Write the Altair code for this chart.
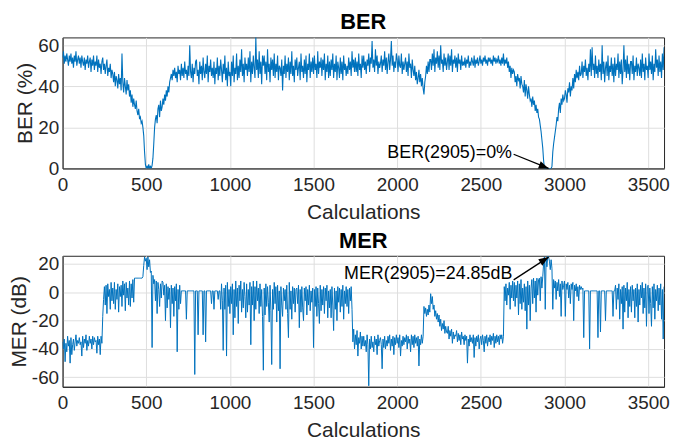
import altair as alt
import pandas as pd

# ---------------- data (every 5 calculations) ----------------
calc_step = 5
ber = [
    54, 57, 51, 55, 52, 56, 53, 50, 55, 52,
    56, 51, 54, 49, 55, 52, 57, 50, 53, 55,
    51, 54, 49, 55, 52, 50, 54, 48, 53, 51,
    55, 49, 52, 54, 47, 53, 50, 55, 48, 52,
    50, 55, 47, 53, 49, 51, 46, 52, 54, 48,
    51, 46, 50, 53, 45, 49, 47, 51, 44, 48,
    46, 42, 47, 40, 45, 43, 39, 46, 41, 44,
    38, 56, 42, 37, 44, 40, 36, 43, 38, 41,
    35, 38, 32, 36, 30, 34, 31, 29, 33, 28,
    26, 29, 24, 25, 22, 23, 20, 16, 8, 2,
    0, 1, 0, 2, 0, 1, 0, 1.5, 5, 12,
    20, 24, 26, 22, 29, 31, 25, 33, 28, 30,
    34, 31, 36, 33, 38, 35, 40, 37, 42, 44,
    46, 43, 48, 45, 49, 44, 47, 42, 50, 46,
    48, 43, 51, 45, 49, 44, 52, 46, 48, 43,
    50, 45, 60, 47, 44, 51, 42, 49, 46, 52,
    53, 45, 48, 41, 52, 46, 50, 43, 54, 47,
    44, 51, 46, 55, 42, 50, 47, 53, 45, 49,
    44, 52, 41, 49, 46, 54, 43, 50, 45, 53,
    48, 42, 51, 46, 55, 43, 49, 40, 52, 45,
    47, 40, 52, 45, 55, 42, 49, 46, 56, 43,
    50, 44, 53, 47, 58, 45, 51, 42, 54, 48,
    51, 45, 54, 47, 57, 42, 52, 46, 55, 49,
    44, 64, 48, 53, 44, 57, 46, 52, 41, 55,
    50, 55, 46, 52, 43, 58, 47, 51, 42, 54,
    48, 53, 45, 56, 44, 51, 47, 55, 43, 50,
    49, 45, 53, 38, 50, 46, 55, 44, 51, 47,
    54, 43, 52, 46, 57, 45, 50, 42, 53, 48,
    54, 45, 49, 52, 43, 56, 47, 50, 44, 53,
    46, 55, 42, 51, 48, 56, 44, 52, 47, 54,
    46, 55, 48, 51, 44, 57, 46, 52, 49, 54,
    45, 53, 48, 56, 43, 51, 47, 55, 44, 52,
    45, 53, 48, 56, 44, 51, 47, 55, 43, 52,
    49, 44, 54, 46, 52, 43, 55, 48, 51, 45,
    50, 46, 54, 48, 52, 45, 57, 49, 53, 47,
    54, 47, 52, 45, 56, 48, 51, 44, 55, 49,
    55, 48, 52, 46, 53, 50, 56, 47, 54, 51,
    62, 49, 53, 47, 58, 50, 55, 46, 52, 49,
    51, 55, 47, 53, 50, 57, 48, 54, 46, 52,
    56, 48, 53, 62, 50, 55, 47, 52, 49, 56,
    53, 47, 55, 50, 49, 56, 46, 52, 48, 51,
    54, 47, 52, 45, 56, 49, 51, 44, 53, 48,
    45, 50, 43, 47, 41, 44, 48, 42, 46, 40,
    44, 39, 36, 42, 45, 50, 46, 52, 47, 53,
    53, 48, 56, 50, 58, 47, 54, 51, 57, 49,
    55, 48, 60, 51, 53, 47, 56, 50, 54, 48,
    52, 56, 48, 55, 50, 58, 47, 53, 51, 55,
    49, 54, 47, 56, 51, 53, 48, 55, 50, 52,
    50, 54, 49, 53, 51, 55, 49, 52, 50, 54,
    52, 50, 55, 49, 53, 51, 54, 50, 52, 55,
    51, 53, 50, 54, 52, 55, 51, 53, 50, 54,
    52, 54, 51, 53, 50, 55, 52, 54, 51, 53,
    52, 55, 51, 53, 50, 54, 51, 56, 50, 53,
    51, 54, 49, 52, 47, 50, 44, 49, 46, 48,
    47, 42, 45, 40, 46, 43, 44, 39, 45, 41,
    40, 37, 43, 35, 41, 38, 34, 40, 36, 33,
    34, 30, 35, 31, 33, 28, 31, 27, 29, 25,
    24, 21, 18, 14, 10, 4, 0, 0, 0, 0,
    0, 0, 0, 0, 0, 1, 8, 12, 15, 18,
    21, 25, 23, 29, 32, 27, 34, 31, 36, 33,
    34, 38, 36, 32, 39, 37, 42, 35, 40, 38,
    44, 39, 46, 42, 48, 44, 47, 43, 50, 45,
    46, 52, 44, 50, 47, 53, 45, 49, 43, 51,
    47, 58, 45, 59, 48, 51, 44, 55, 46, 50,
    44, 53, 47, 51, 43, 60, 46, 52, 42, 49,
    52, 45, 55, 43, 50, 47, 54, 45, 51, 42,
    54, 45, 51, 48, 56, 44, 52, 46, 53, 41,
    48, 60, 47, 53, 44, 55, 46, 51, 43, 52,
    52, 46, 55, 43, 50, 47, 54, 45, 51, 49,
    45, 53, 44, 56, 47, 51, 43, 54, 48, 50,
    44, 56, 48, 52, 46, 55, 43, 51, 47, 58,
    49, 53, 45, 55, 47, 52, 44, 56, 48, 59,
]
mer = [
    -35, -40, -33, -49, -36, -42, -31, -38, -34, -50,
    -32, -44, -37, -33, -41, -35, -30, -38, -34, -36,
    -32, -37, -35, -45, -31, -39, -33, -36, -30, -41,
    -34, -38, -31, -36, -33, -40, -31, -37, -32, -35,
    -34, -43, -31, -37, -33, -44, -31, -36, -17, -5,
    4, -9, 5, -15, 6, -3, 2, -12, 7, -6,
    3, -8, 7, -12, 2, -5, 6, -14, 4, -3,
    5, -10, 8, -2, 6, -13, 7, -4, 3, -9,
    8, -10, 6, -4, 9, -7, 10, 10, 10, 10,
    10, 10, 10, 10, 10, 10, 11, 19, 25, 22,
    24, 16, 25, 18, 23, 14, 15, -39, 12, 6,
    9, -6, 8, -15, 7, 2, -10, 6, -4, 8,
    7, -2, 5, -20, 6, -11, 4, -5, 3, -25,
    5, -8, 3, -17, 4, -6, 6, -42, 2, -12,
    5, -8, 1, 1, 1, 1, 1, 1, -19, 1,
    1, 1, 1, 1, 1, 1, 1, 1, -58, 1,
    1, 1, -30, 1, 1, 1, 1, 1, -30, 1,
    1, -35, 1, 1, 1, 1, 1, 1, -8, 1,
    1, -12, 1, 1, 1, 1, -5, 1, 1, -12,
    6, -6, -41, 3, -12, 5, -45, 7, -10, 2,
    -15, 4, -8, 6, -30, 2, -18, 8, -10, 3,
    -22, 5, -6, 8, -14, 2, -11, 7, -3, -18,
    6, -14, 2, -9, 7, -37, 4, -9, 8, -20,
    4, -12, 8, -6, 3, -15, 6, -10, 2, -17,
    -55, 3, -16, 6, -10, 4, -7, -21, 5, -13,
    -51, 2, -12, 7, -8, 4, -21, 5, -13, 1,
    -54, 4, -9, -17, 3, -6, 2, -12, 5, -15,
    -32, 7, -12, 1, -19, 4, -8, 3, -14, 2,
    3, -8, 5, -25, 2, -14, 4, -11, -20, 3,
    -6, 4, -16, 2, -9, 5, -13, 1, -7, 3,
    -39, 2, -10, 4, -17, 3, -8, -22, 5, -13,
    2, -9, 4, -15, 3, -6, 5, -18, 1, -11,
    2, -18, 4, -9, -27, 3, -12, 1, -20, 4,
    -7, 3, -14, 2, -10, 5, -19, 1, -8, 4,
    -10, 2, -15, 3, -6, 4, -12, -35, -26, -40,
    -30, -37, -27, -45, -32, -36, -28, -40, -31, -38,
    -31, -38, -34, -42, -30, -37, -66, -33, -40, -31,
    -39, -35, -42, -31, -37, -33, -44, -30, -38, -34,
    -32, -37, -54, -33, -39, -31, -40, -34, -38, -31,
    -36, -30, -41, -33, -38, -31, -44, -32, -37, -30,
    -36, -32, -39, -30, -45, -34, -38, -31, -37, -32,
    -35, -30, -40, -31, -36, -33, -42, -30, -37, -31,
    -39, -30, -36, -32, -38, -31, -52, -33, -37, -30,
    -36, -31, -10, -15, -11, -17, -12, -16, -9, -14,
    -1, -8, -3, -12, -9, -17, -13, -19, -15, -21,
    -16, -24, -19, -27, -22, -26, -20, -29, -24, -28,
    -29, -24, -33, -27, -31, -26, -36, -28, -33, -30,
    -31, -27, -35, -29, -34, -30, -37, -28, -33, -31,
    -37, -30, -34, -31, -50, -33, -38, -30, -35, -32,
    -36, -30, -46, -32, -38, -31, -35, -30, -40, -33,
    -31, -37, -30, -34, -42, -31, -36, -30, -38, -32,
    -35, -30, -37, -31, -34, -29, -39, -31, -36, -30,
    -35, -31, -37, -30, -33, -30, -36, -31, 4, -6,
    6, -9, 3, -2, 7, -12, 5, -4, 8, -6,
    7, -10, 5, -4, 8, -16, 6, -8, 9, -12,
    3, -7, 6, -13, 4, -26, 8, -9, 5, -20,
    3, 9, -8, 10, -4, 8, -14, 10, -2, 9,
    10, -6, 11, 3, 11, 20, 25, -12, 24, 18,
    25.5, 24.85, 22, 16, 23, 17, -12, 9, 3, 8,
    -5, 7, 1, 9, -3, 6, -17, 8, 2, 5,
    8, -17, 6, 2, 7, -4, 5, -8, 6, 2,
    7, -20, 5, 1, 6, -3, 4, -6, 5, 2,
    4, 2, 3, -32, 1, 1, 1, 1, 1, 1,
    -40, 1, 1, 1, 1, 1, 1, 1, 1, 1,
    -32, 1, 1, -28, 1, 1, 1, 1, 1, -20,
    1, 1, 1, 1, 1, 1, 1, 1, -17, 1,
    1, 5, -12, 3, -5, 6, -19, 2, -8, 4,
    -26, 5, -14, 3, -6, 7, -18, 2, -10, 4,
    -14, 5, -6, 2, -18, 3, -10, 6, -21, 2,
    -9, 5, -4, 7, -15, 3, -11, 6, -24, 4,
    5, -15, 3, -8, -24, 4, -11, 6, -19, 2,
    -6, 5, -13, 3, -9, 6, -19, 2, -33, 4,
]
x_ticks = [0, 500, 1000, 1500, 2000, 2500, 3000, 3500]
ber_ticks = [0, 20, 40, 60]
mer_ticks = [-60, -40, -20, 0, 20]

# annotations: target point, arrow tail, text anchor (right end)
ber_ann = dict(x=2905, y=0, tx=2696, ty=6.9, lx=2686, ly=7.6, text="BER(2905)=0%", angle=111)
mer_ann = dict(x=2905, y=24.85, tx=2696, ty=8.8, lx=2688, ly=13.0, text="MER(2905)=24.85dB", angle=57)

# ---------------- styling ----------------
BLUE = "#0072BD"
AX = "#262626"
FONT = "Liberation Sans"
W, H = 606, 132
X_DOMAIN = [0, 3595]
ARROW = "M0,0 L-0.38,1 L0.38,1 Z"

df_ber = pd.DataFrame({"x": [i * calc_step for i in range(len(ber))], "y": ber})
df_mer = pd.DataFrame({"x": [i * calc_step for i in range(len(mer))], "y": mer})


def panel(df, title, ytitle, ydom, yticks, ann, lw):
    xs = alt.Scale(domain=X_DOMAIN, nice=False, zero=False)
    ys = alt.Scale(domain=ydom, nice=False, zero=False)
    xax = alt.Axis(values=x_ticks, title="Calculations", labelExpr="datum.value + ''",
                   labelOverlap=False)
    yax = alt.Axis(values=yticks, title=ytitle, labelExpr="datum.value + ''",
                   labelOverlap=False)
    line = alt.Chart(df).mark_line(color=BLUE, strokeWidth=lw, clip=True).encode(
        x=alt.X("x:Q", scale=xs, axis=xax),
        y=alt.Y("y:Q", scale=ys, axis=yax),
    )
    a = pd.DataFrame([ann])
    rule = alt.Chart(a).mark_rule(color="black", strokeWidth=1.3).encode(
        x=alt.X("tx:Q", scale=xs, axis=xax), y=alt.Y("ty:Q", scale=ys, axis=yax),
        x2="x:Q", y2="y:Q"
    )
    head = alt.Chart(a).mark_point(
        shape=ARROW, filled=True, color="black", size=400, opacity=1
    ).encode(x=alt.X("x:Q", scale=xs, axis=xax), y=alt.Y("y:Q", scale=ys, axis=yax),
             angle=alt.value(ann["angle"]))
    txt = alt.Chart(a).mark_text(
        align="right", baseline="middle", font=FONT, fontSize=18, color="black"
    ).encode(x=alt.X("lx:Q", scale=xs, axis=xax), y=alt.Y("ly:Q", scale=ys, axis=yax),
             text="text:N")
    return alt.layer(line, rule, head, txt).properties(
        width=W,
        height=H,
        title=alt.TitleParams(title, fontSize=22, fontWeight="bold", font=FONT,
                              color="black", offset=2),
    )


top = panel(df_ber, "BER", "BER (%)", [0, 63.8], ber_ticks, ber_ann, 1.1)
bot = panel(df_mer, "MER", "MER (dB)", [-66.7, 25.8], mer_ticks, mer_ann, 1.0)

chart = alt.vconcat(top, bot, spacing=6).properties(
    padding={"left": 0, "top": 1, "right": 0, "bottom": 0}
).configure_view(stroke=AX, strokeWidth=1).configure_axis(
    labelFont=FONT, labelFontSize=19, labelColor=AX,
    titleFont=FONT, titleFontSize=21, titleFontWeight="normal", titleColor=AX,
    domainColor=AX, gridColor="#dedede", ticks=False, labelOverlap=False,
    labelFlush=False,
).configure_axisX(labelPadding=7, titlePadding=7).configure_axisY(
    labelPadding=4, titlePadding=2
)

chart.save("out.html", embed_options={"renderer": "svg", "actions": False})
